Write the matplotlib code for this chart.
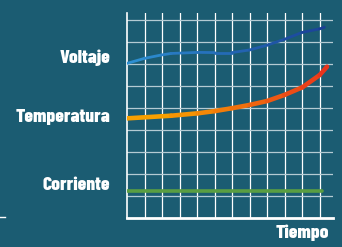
import numpy as np
import matplotlib
matplotlib.use('Agg')
import matplotlib.pyplot as plt
from matplotlib.collections import LineCollection
from matplotlib.colors import LinearSegmentedColormap

# Series (x = time grid units, y = grid units)
volt_x = [0, 1.01, 1.95, 2.51, 4.03, 5.0, 5.97, 6.99, 7.99, 8.96, 9.99, 10.98, 11.25]
volt_y = [7.03, 7.26, 7.41, 7.48, 7.53, 7.52, 7.52, 7.64, 7.86, 8.12, 8.44, 8.60, 8.67]
temp_x = [0, 2.51, 4.03, 5.0, 5.97, 6.99, 7.99, 8.96, 9.99, 10.98, 11.4]
temp_y = [4.53, 4.65, 4.76, 4.86, 4.99, 5.14, 5.32, 5.59, 5.94, 6.5, 6.88]
corr_x = [0, 11.1]
corr_y = [1.24, 1.24]

labels = ['Voltaje', 'Temperatura', 'Corriente']
label_base = [62.7, 121.7, 190.0]   # baselines, pixels from top
xlabel = 'Tiempo'

W, H = 342, 247
bg = '#1b5c72'
font = ['Barlow Condensed', 'DejaVu Sans']


def gradient_line(ax, x, y, c0, c1, lw):
    pts = np.column_stack([x, y]).reshape(-1, 1, 2)
    segs = np.concatenate([pts[:-1], pts[1:]], axis=1)
    cmap = LinearSegmentedColormap.from_list('g', [c0, c1])
    lc = LineCollection(segs, cmap=cmap, linewidth=lw, capstyle='round', joinstyle='round', zorder=3)
    lc.set_array(np.linspace(0, 1, len(segs)))
    ax.add_collection(lc)


fig = plt.figure(figsize=(W / 100, H / 100), dpi=100, facecolor=bg)
ax = fig.add_axes([127 / W, 29 / H, 206 / W, 205 / H])
ax.set_facecolor(bg)
ax.set_xlim(0, 11.74)
ax.set_ylim(0, 9.32)

for i in range(1, 12):
    ax.axvline(i, color='white', lw=0.9, zorder=1)
for j in range(1, 10):
    ax.axhline(j, color='#b4cbd3', lw=0.9, zorder=1)

gradient_line(ax, volt_x, volt_y, '#2d8fd2', '#1a3f95', 2.0)
gradient_line(ax, temp_x, temp_y, '#f7a000', '#e8341c', 3.3)
gradient_line(ax, corr_x, corr_y, '#5a9e42', '#2f6a3c', 2.6)

for s in ['top', 'right']:
    ax.spines[s].set_visible(False)
ax.spines['left'].set_color('white')
ax.spines['left'].set_linewidth(1.2)
ax.spines['bottom'].set_color('white')
ax.spines['bottom'].set_linewidth(2.0)
ax.set_xticks([])
ax.set_yticks([])

for lab, yb in zip(labels, label_base):
    fig.text(110 / W, 1 - yb / H, lab, color='white', fontsize=14, fontweight=800,
             family=font, ha='right', va='baseline')
fig.text(329 / W, 1 - 237.7 / H, xlabel, color='white', fontsize=14, fontweight=800,
         family=font, ha='right', va='baseline')

# small mark at the lower left edge
fig.add_artist(plt.Line2D([0, 5 / W], [30 / H, 30 / H], color='white', lw=1.0))

fig.savefig('out.png', dpi=100, facecolor=bg)
